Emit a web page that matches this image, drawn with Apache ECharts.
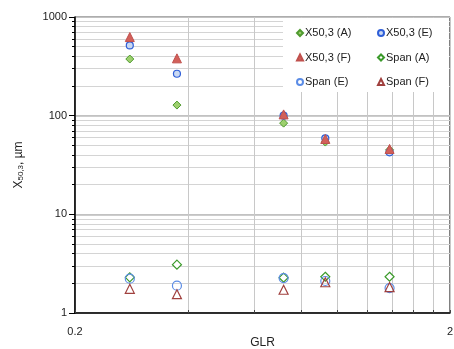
<!DOCTYPE html>
<html><head><meta charset="utf-8">
<script src="https://cdn.jsdelivr.net/npm/echarts@6/dist/echarts.min.js"></script>
<style>html,body{margin:0;padding:0;background:#fff}#c{width:454px;height:349px}</style>
</head><body><div id="c"></div>
<script>
const glr = [0.28, 0.374, 0.72, 0.93, 1.38];
const x50A = [375, 128, 84, 54, 45];
const x50E = [515, 266, 100, 59, 42.5];
const x50F = [626, 381, 103, 58, 46];
const spanA = [2.30, 3.09, 2.28, 2.33, 2.33];
const spanE = [2.23, 1.89, 2.26, 2.11, 1.79];
const spanF = [1.76, 1.55, 1.72, 2.05, 1.83];
const xTicks = [0.2, 0.4, 0.6, 0.8, 1.0, 1.2, 1.4, 1.6, 1.8, 2];
const xLabels = [0.2, 2];
const yMinor = [1,2,3,4,5,6,7,8,9,10,20,30,40,50,60,70,80,90,100,200,300,400,500,600,700,800,900,1000];
const yMajor = [1, 10, 100, 1000];

const pts = ys => glr.map((x, i) => [x, ys[i]]);
const font = 'Liberation Sans';
function s(name, ys, symbol, size, fill, border, bw) {
  return {name, type: 'scatter', xAxisIndex: 0, yAxisIndex: 0, data: pts(ys), symbol, symbolSize: size,
    itemStyle: {color: fill, borderColor: border, borderWidth: bw, opacity: 1}, z: 5};
}
const legendBase = {orient: 'vertical', top: 21, itemWidth: 6, itemHeight: 6, itemGap: 10.5, z: 10,
  textStyle: {fontFamily: font, fontSize: 11, color: '#222', padding: [0, 0, 0, -3], lineHeight: 14}};
const chart = echarts.init(document.getElementById('c'), null, {renderer: 'canvas'});
chart.setOption({
  animation: false,
  backgroundColor: '#fff',
  grid: {left: 75, right: 4, top: 17, bottom: 36, outerBoundsMode: 'none', containLabel: false, show: true, borderColor: '#000', borderWidth: 1, backgroundColor: 'transparent'},
  xAxis: [{
    type: 'log', logBase: 10, min: 0.2, max: 2,
    name: 'GLR', nameLocation: 'middle', nameGap: 24, nameMoveOverlap: false,
    nameTextStyle: {fontFamily: font, fontSize: 12, color: '#222'},
    axisLine: {show: true, lineStyle: {color: '#000', width: 1.5}},
    axisTick: {show: true, inside: true, length: 3, customValues: xTicks, lineStyle: {color: '#444'}},
    axisLabel: {customValues: xLabels, fontFamily: font, fontSize: 11, color: '#222', margin: 13, formatter: v => String(+(+v).toFixed(2))},
    splitLine: {show: true, lineStyle: {color: '#c8c8c8', width: 1}},
    minorTick: {show: false}, minorSplitLine: {show: false}
  }],
  yAxis: [{
    type: 'log', logBase: 10, min: 1, max: 1000,
    name: '{a|X}{b|50,3}{a|, µm}', nameLocation: 'middle', nameGap: 50, nameRotate: 90, nameMoveOverlap: false,
    nameTextStyle: {rich: {a: {fontFamily: font, fontSize: 12, color: '#222'}, b: {fontFamily: font, fontSize: 8, color: '#222', padding: [5, 0, 0, 0]}}},
    axisLine: {show: true, lineStyle: {color: '#000', width: 1.5}},
    axisTick: {show: true, inside: false, length: 3, customValues: yMinor, lineStyle: {color: '#000'}},
    axisLabel: {customValues: yMajor, fontFamily: font, fontSize: 11, color: '#222', margin: 8, formatter: v => String(Math.round(+v))},
    splitLine: {show: true, lineStyle: {color: '#d4d4d4', width: 1}}
  }, {
    type: 'log', logBase: 10, min: 1, max: 1000, position: 'left',
    axisLine: {show: false},
    axisTick: {show: true, inside: false, length: 6, customValues: yMajor, lineStyle: {color: '#000'}},
    axisLabel: {show: false},
    splitLine: {show: true, lineStyle: {color: '#bdbdbd', width: 1.5}}
  }],
  graphic: [{type: 'rect', shape: {x: 283, y: 18, width: 166, height: 74}, style: {fill: '#fff'}, z: 3}],
  legend: [
    Object.assign({}, legendBase, {data: ['X50,3 (A)', 'X50,3 (F)', 'Span (E)'], left: 291}),
    Object.assign({}, legendBase, {data: ['X50,3 (E)', 'Span (A)', 'Span (F)'], left: 372})
  ],
  series: [
    s('X50,3 (A)', x50A, 'diamond', 8, '#9dd06e', '#4f9a2f', 1),
    s('X50,3 (E)', x50E, 'circle', 7, '#c9d8f2', '#2f5fd8', 1.2),
    s('X50,3 (F)', x50F, 'triangle', 9, '#d2605a', '#c0504d', 1),
    s('Span (A)', spanA, 'diamond', 9, '#ffffff', '#3a9a2a', 1.2),
    s('Span (E)', spanE, 'circle', 9, 'rgba(255,255,255,0)', '#5b8ce6', 1.2),
    s('Span (F)', spanF, 'triangle', 9, 'rgba(255,255,255,0)', '#a0403e', 1.2)
  ]
});
</script></body></html>
